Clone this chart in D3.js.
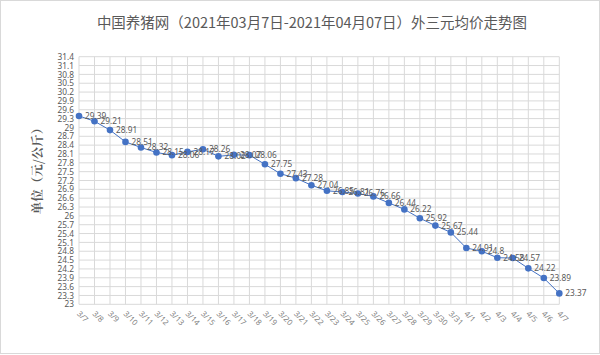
<!DOCTYPE html>
<html><head><meta charset="utf-8">
<script src="https://cdn.jsdelivr.net/npm/d3@7"></script>
<style>body{margin:0;background:#fff}svg{display:block}</style>
</head><body>
<script>
const title = "中国养猪网（2021年03月7日-2021年04月07日）外三元均价走势图";
const yTitle = "单位（元/公斤）";
const categories = ["3/7","3/8","3/9","3/10","3/11","3/12","3/13","3/14","3/15","3/16","3/17","3/18","3/19","3/20","3/21","3/22","3/23","3/24","3/25","3/26","3/27","3/28","3/29","3/30","3/31","4/1","4/2","4/3","4/4","4/5","4/6","4/7"];
const values = [29.39,29.21,28.91,28.51,28.32,28.15,28.06,28.17,28.26,28.02,28.07,28.06,27.75,27.43,27.28,27.04,26.85,26.81,26.76,26.66,26.44,26.22,25.92,25.67,25.44,24.91,24.8,24.58,24.57,24.22,23.89,23.37];
const yTicks = d3.range(0, 29).map(i => +(23 + i * 0.3).toFixed(1));

const W = 600, H = 355;
const svg = d3.select("body").append("svg").attr("width", W).attr("height", H);
svg.append("rect").attr("x",0.5).attr("y",0.5).attr("width",W-1).attr("height",H-2)
  .attr("fill","#fff").attr("stroke","#d9d9d9");

const x = d3.scalePoint().domain(categories).range([79, 559.3]);
const y = d3.scaleLinear().domain([23, 31.4]).range([304.3, 56.7]);

// gridlines
const g = svg.append("g");
g.selectAll("line.h").data(yTicks).join("line")
  .attr("x1", 79).attr("x2", 559.3)
  .attr("y1", d => y(d)).attr("y2", d => y(d))
  .attr("stroke", "#d9d9d9").attr("stroke-width", 1);
g.selectAll("line.v").data(categories).join("line")
  .attr("x1", d => x(d)).attr("x2", d => x(d))
  .attr("y1", y(23)).attr("y2", y(31.4))
  .attr("stroke", "#d9d9d9").attr("stroke-width", 1);

// y axis labels
const yAxis = d3.axisLeft(y).tickValues(yTicks).tickSize(0).tickPadding(5)
  .tickFormat(d => String(+d.toFixed(1)));
svg.append("g").attr("transform","translate(79,0)").call(yAxis)
  .call(s => s.select(".domain").remove())
  .selectAll("text").attr("font-family","'Noto Sans', sans-serif").attr("font-size",8.3).attr("fill","#595959");

// x axis labels
const xAxis = d3.axisBottom(x).tickSize(0).tickPadding(0);
const xg = svg.append("g").attr("transform", `translate(0,${y(23)})`).call(xAxis);
xg.select(".domain").remove();
xg.selectAll("text")
  .attr("font-family","'Noto Sans', sans-serif").attr("font-size",7.8).attr("fill","#7f7f7f")
  .attr("text-anchor","start").attr("dy",null).attr("y",0)
  .attr("transform","translate(-3,10) rotate(45)");

// line
const line = d3.line().x((d,i) => x(categories[i])).y(d => y(d));
svg.append("path").datum(values).attr("d", line)
  .attr("fill","none").attr("stroke","#4472C4").attr("stroke-width",1);
svg.selectAll("circle.pt").data(values).join("circle")
  .attr("cx",(d,i) => x(categories[i])).attr("cy", d => y(d)).attr("r",3.3)
  .attr("fill","#4472C4");

// data labels
svg.selectAll("text.lbl").data(values).join("text")
  .attr("x",(d,i) => x(categories[i]) + 6).attr("y", d => y(d) + 3)
  .attr("font-family","'Noto Sans', sans-serif").attr("font-size",8.3).attr("fill","#595959")
  .text(d => d);

// title
svg.append("text").attr("x", 312).attr("y", 28).attr("text-anchor","middle")
  .attr("font-family","'Noto Sans CJK SC', sans-serif").attr("font-size",14.5).attr("fill","#595959")
  .text(title);

// y title
svg.append("text").attr("transform","translate(42,168) rotate(-90)").attr("text-anchor","middle")
  .attr("font-family","'Noto Serif CJK SC','Noto Sans CJK SC', serif").attr("font-size",12.5).attr("font-weight","bold").attr("fill","#595959")
  .text(yTitle);
</script>
</body></html>
